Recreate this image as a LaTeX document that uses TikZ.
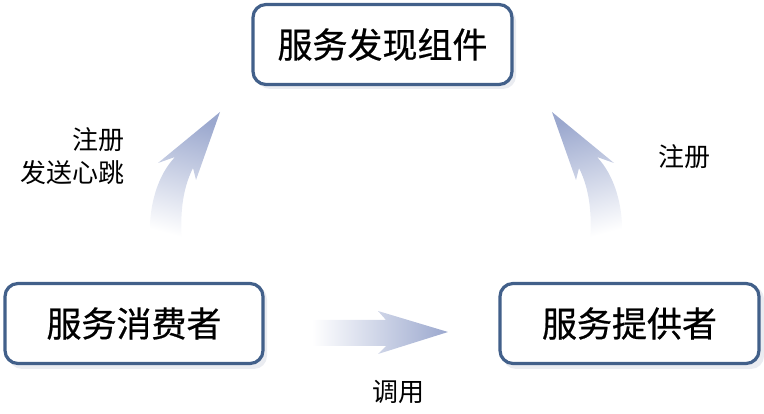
\documentclass[tikz,border=0pt]{standalone}
\usepackage{fontspec}
\newfontfamily\cjk{Noto Sans CJK SC}
\newfontfamily\cjkbox[FakeBold=0.6]{Noto Sans CJK SC}
\definecolor{boxborder}{RGB}{66,96,138}
\definecolor{arrowblue}{RGB}{155,168,206}
\definecolor{shadowgray}{RGB}{234,236,241}
\begin{document}
\begin{tikzpicture}[x=1pt,y=-1pt,
  compbox/.style={draw=boxborder,line width=3.2pt,rounded corners=13pt,fill=white,
    minimum width=#1,minimum height=80pt,inner sep=0pt,font=\cjkbox\fontsize{35pt}{40pt}\selectfont},
  lbl/.style={font=\cjk\fontsize{26pt}{33pt}\selectfont,inner sep=0pt},
  fatarrow/.style={draw=none}
]
\useasboundingbox (0,0) rectangle (764,414);
% shadows
\fill[shadowgray,rounded corners=13pt] (257,8) rectangle (516,89);
\fill[shadowgray,rounded corners=13pt] (9,286) rectangle (267,369);
\fill[shadowgray,rounded corners=13pt] (503,286) rectangle (764,369);
% boxes
\node[compbox=259pt] (disc) at (382.5,44.5) {服务发现组件};
\node[compbox=258pt] (cons) at (134,323.5) {服务消费者};
\node[compbox=259pt] (prov) at (629.5,323.5) {服务提供者};
% left curved arrow (consumer -> discovery)
\shade[fatarrow,top color=arrowblue,bottom color=white,shading angle=-15]
  (150,242) .. controls (148,205) and (158,175) .. (175,157)
  -- (158,163) -- (220,112) -- (196,180) -- (193,168)
  .. controls (182,190) and (180,215) .. (182,242) -- cycle;
% right curved arrow (provider -> discovery)
\shade[fatarrow,top color=arrowblue,bottom color=white,shading angle=15]
  (622,242) .. controls (624,205) and (614,175) .. (597,157)
  -- (614,163) -- (552,112) -- (576,180) -- (579,168)
  .. controls (590,190) and (592,215) .. (590,242) -- cycle;
% bottom arrow (consumer -> provider)
\shade[fatarrow,left color=white,right color=arrowblue]
  (312,320) -- (386,320) -- (378,311) -- (448,332) -- (378,354) -- (386,346)
  -- (312,346) -- cycle;
% labels
\node[lbl,anchor=east] (l1) at (125,140) {注册};
\node[lbl,anchor=east] (l2) at (125,173) {发送心跳};
\node[lbl] (r1) at (684,157) {注册};
\node[lbl] (b1) at (398,392) {调用};
\end{tikzpicture}
\end{document}
